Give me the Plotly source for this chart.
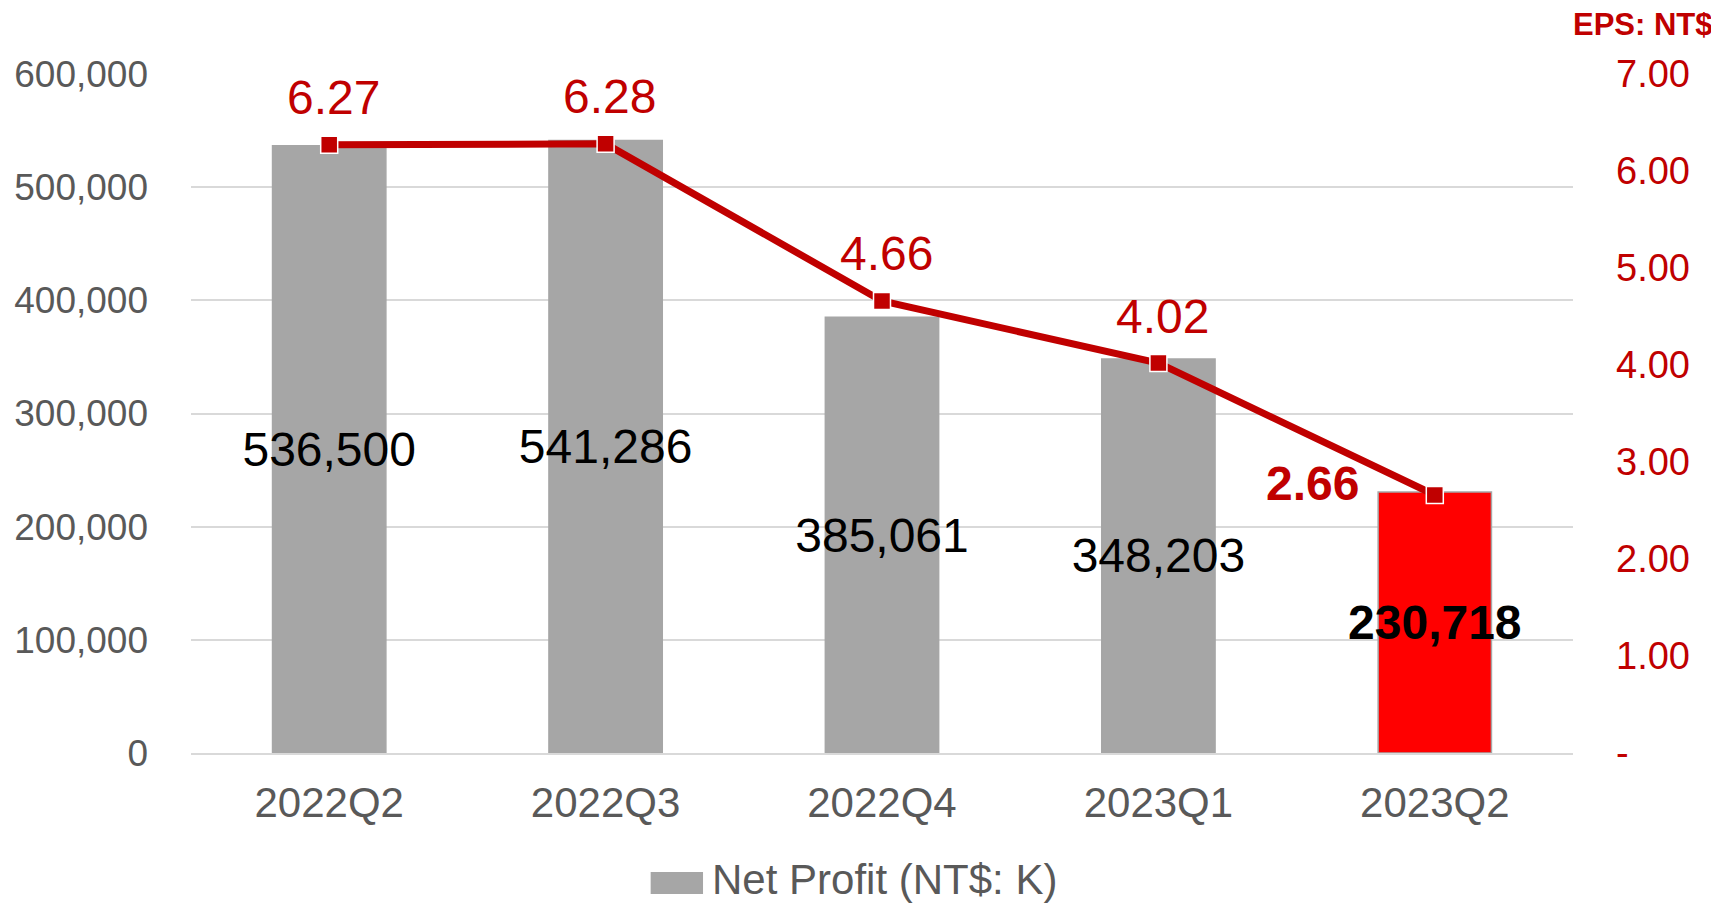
import plotly.graph_objects as go

categories = ["2022Q2", "2022Q3", "2022Q4", "2023Q1", "2023Q2"]
net_profit = [536500, 541286, 385061, 348203, 230718]
eps = [6.27, 6.28, 4.66, 4.02, 2.66]
bar_labels = ["536,500", "541,286", "385,061", "348,203", "<b>230,718</b>"]
eps_labels = ["6.27", "6.28", "4.66", "4.02", "<b>2.66</b>"]
bar_colors = ["#A6A6A6", "#A6A6A6", "#A6A6A6", "#A6A6A6", "#FF0000"]
left_ticks = [0, 100000, 200000, 300000, 400000, 500000, 600000]
right_tickvals = [0, 1, 2, 3, 4, 5, 6, 7]
right_ticktext = ["-", "1.00", "2.00", "3.00", "4.00", "5.00", "6.00", "7.00"]
legend_label = "Net Profit (NT$: K)"

FONT = "Liberation Sans, Arial, sans-serif"
DARKRED = "#C00000"
GREY_TXT = "#595959"

fig = go.Figure()
fig.add_trace(go.Bar(
    x=categories, y=net_profit, name=legend_label,
    marker=dict(color=bar_colors, line=dict(color="#A6A6A6", width=1.5)),
    width=0.41,
    text=bar_labels, textposition="inside", insidetextanchor="middle",
    textangle=0, constraintext="none",
    insidetextfont=dict(family=FONT, size=48, color="#000000"),
    yaxis="y", showlegend=False, cliponaxis=False,
))
fig.add_trace(go.Scatter(
    x=categories, y=eps, name="EPS", yaxis="y2",
    mode="lines+markers",
    line=dict(color=DARKRED, width=7),
    marker=dict(symbol="square", size=17, color=DARKRED,
                line=dict(color="#FFFFFF", width=1.5)),
    showlegend=False, cliponaxis=False,
))

annotations = []
for i, (c, v, t) in enumerate(zip(categories, eps, eps_labels)):
    last = i == len(categories) - 1
    annotations.append(dict(
        x=c, y=v, xref="x", yref="y2", text=t, showarrow=False,
        xanchor="center", yanchor="middle",
        xshift=-122 if last else 4, yshift=11 if last else 47,
        font=dict(family=FONT, size=48, color=DARKRED),
    ))
annotations.append(dict(
    text="<b>EPS: NT$</b>", xref="paper", yref="paper",
    x=1.103, y=1.0722, xanchor="right", yanchor="middle", showarrow=False,
    font=dict(family=FONT, size=31, color=DARKRED),
))
# legend entry (wide swatch + label)
annotations.append(dict(
    text=legend_label, xref="paper", yref="paper",
    x=0.3755, y=-0.187, xanchor="left", yanchor="middle", showarrow=False,
    font=dict(family=FONT, size=42, color=GREY_TXT),
))

fig.update_layout(
    width=1711, height=897,
    margin=dict(l=183, r=146, t=66, b=152),
    paper_bgcolor="white", plot_bgcolor="white",
    font=dict(family=FONT, color=GREY_TXT),
    showlegend=False,
    xaxis=dict(
        tickfont=dict(size=42, color=GREY_TXT),
        showgrid=False, showline=True, linecolor="#D9D9D9", linewidth=2,
        ticks="", ticklabelstandoff=12, automargin=False,
    ),
    yaxis=dict(
        range=[0, 600000], tickvals=left_ticks, tickformat=",",
        tickfont=dict(size=37, color=GREY_TXT),
        showgrid=True, gridcolor="#D9D9D9", gridwidth=1.5,
        zeroline=False, showline=False, ticks="",
        ticklabelstandoff=42, automargin=False,
    ),
    yaxis2=dict(
        overlaying="y", side="right", range=[0, 7],
        tickvals=right_tickvals, ticktext=right_ticktext,
        tickfont=dict(size=38, color=DARKRED),
        showgrid=False, zeroline=False, showline=False, ticks="",
        ticklabelstandoff=42, automargin=False,
    ),
    annotations=annotations,
    shapes=[dict(
        type="rect", xref="paper", yref="paper",
        x0=0.3326, x1=0.3705, y0=-0.2077, y1=-0.1753,
        fillcolor="#A6A6A6", line=dict(width=0),
    )],
)

fig.write_html("out.html")
